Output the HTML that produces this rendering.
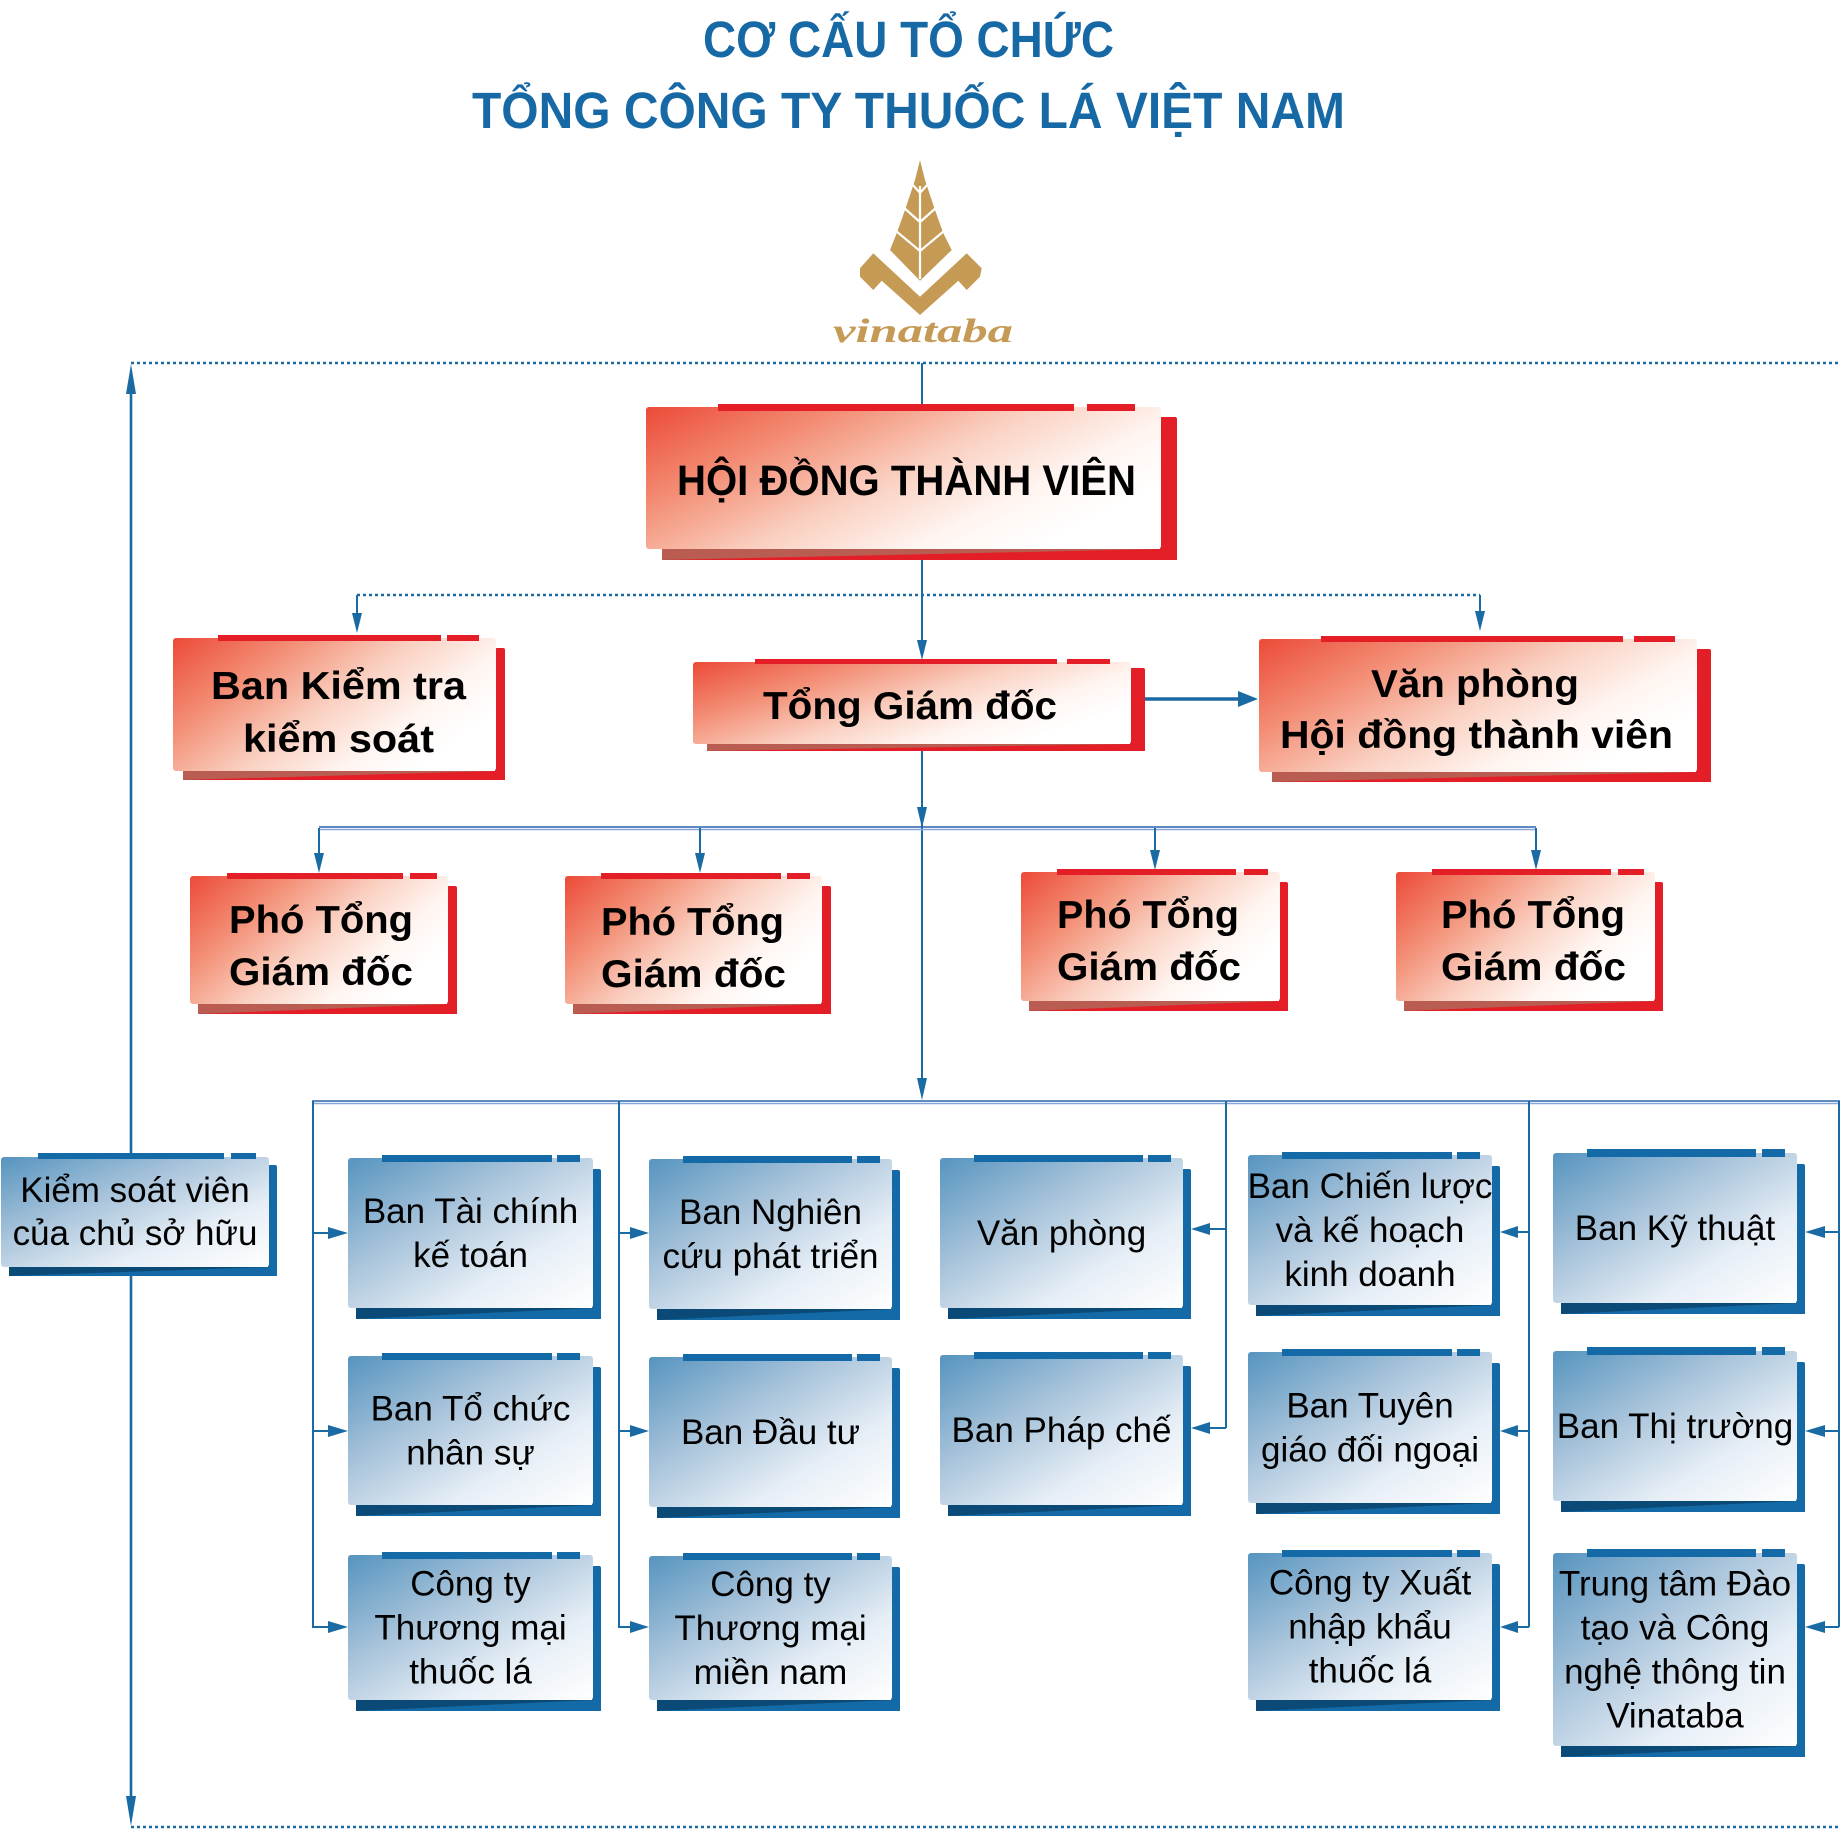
<!DOCTYPE html>
<html><head><meta charset="utf-8"><style>html,body{margin:0;padding:0;background:#fff}svg{display:block}</style></head>
<body>
<svg xmlns="http://www.w3.org/2000/svg" width="1841" height="1829" viewBox="0 0 1841 1829">
<defs>
<linearGradient id="rg" x1="0" y1="0" x2="1" y2="0.55">
<stop offset="0" stop-color="#ec4a38"/><stop offset="0.3" stop-color="#f38e75"/><stop offset="0.58" stop-color="#fad0c1"/><stop offset="0.82" stop-color="#fff5f1"/><stop offset="1" stop-color="#ffffff"/>
</linearGradient>
<linearGradient id="bg" x1="0" y1="0" x2="1" y2="1">
<stop offset="0" stop-color="#5694bf"/><stop offset="0.38" stop-color="#a9c4db"/><stop offset="0.7" stop-color="#e6eef6"/><stop offset="1" stop-color="#ffffff"/>
</linearGradient>
</defs>

<!-- Title -->
<g font-family="'Liberation Sans', 'DejaVu Sans', sans-serif" font-weight="bold" fill="#1769a5" font-size="51">
<text x="703" y="57" textLength="411" lengthAdjust="spacingAndGlyphs">CƠ CẤU TỔ CHỨC</text>
<text x="472" y="128" textLength="873" lengthAdjust="spacingAndGlyphs">TỔNG CÔNG TY THUỐC LÁ VIỆT NAM</text>
</g>

<!-- Logo -->
<g fill="#c49a55">
<polygon points="920,160 915,180 905,210 896.7,233.3 890,250 920,280.7 951.7,250 943.3,233.3 935,210 925,180"/>
<polygon points="873.3,253.3 920,296.7 966.7,253.3 981.7,268.3 980,276.7 966.7,290 958.3,280.7 920,315 881.7,280.7 873.3,290 860,276.7 860,268.3"/>
</g>
<g stroke="#fff" stroke-width="2.2" fill="none">
<line x1="920" y1="186" x2="920" y2="279"/>
<polyline points="912,184 920,193 928,184"/>
<polyline points="903,207 920,222 937,207"/>
<polyline points="896,231 920,251 944,231"/>
</g>
<text x="833" y="342" textLength="180" lengthAdjust="spacingAndGlyphs" font-family="'Liberation Serif', 'DejaVu Serif', serif" font-style="italic" font-weight="bold" font-size="34" fill="#c49a55">vinataba</text>

<!-- Connectors -->
<g stroke="#1a6aa3" fill="none">
<line x1="131" y1="363" x2="1841" y2="363" stroke-width="2.5" stroke-dasharray="3 3"/>
<line x1="131" y1="1827" x2="1841" y2="1827" stroke-width="2.5" stroke-dasharray="3 3"/>
<line x1="131" y1="385" x2="131" y2="1805" stroke-width="2.6"/>
<line x1="922" y1="363" x2="922" y2="406" stroke-width="2"/>
<line x1="922" y1="558" x2="922" y2="645" stroke-width="2"/>
<line x1="922" y1="750" x2="922" y2="1085" stroke-width="2"/>
<line x1="357" y1="595" x2="1480" y2="595" stroke-width="2.5" stroke-dasharray="3 3"/>
<line x1="357" y1="595" x2="357" y2="618" stroke-width="2"/>
<line x1="1480" y1="595" x2="1480" y2="616" stroke-width="2"/>
<line x1="1145" y1="699" x2="1245" y2="699" stroke-width="3.5"/>
<line x1="319" y1="827" x2="1536" y2="827" stroke="#2d62ad" stroke-width="1.6"/>
<line x1="319" y1="829.5" x2="1536" y2="829.5" stroke="#86a8d8" stroke-width="1.4"/>
<line x1="319" y1="828" x2="319" y2="860" stroke-width="2"/>
<line x1="700" y1="828" x2="700" y2="860" stroke-width="2"/>
<line x1="1155" y1="828" x2="1155" y2="857" stroke-width="2"/>
<line x1="1536" y1="828" x2="1536" y2="857" stroke-width="2"/>
<line x1="312" y1="1101" x2="1840" y2="1101" stroke="#2d62ad" stroke-width="1.6"/>
<line x1="312" y1="1103.5" x2="1840" y2="1103.5" stroke="#86a8d8" stroke-width="1.4"/>
<line x1="313" y1="1101" x2="313" y2="1628" stroke-width="2"/>
<line x1="619" y1="1101" x2="619" y2="1628" stroke-width="2"/>
<line x1="1226" y1="1101" x2="1226" y2="1428" stroke-width="2"/>
<line x1="1529" y1="1101" x2="1529" y2="1627" stroke-width="2"/>
<line x1="1839" y1="1101" x2="1839" y2="1627" stroke-width="2"/>
<line x1="313" y1="1233" x2="335" y2="1233" stroke-width="2"/>
<line x1="313" y1="1431" x2="335" y2="1431" stroke-width="2"/>
<line x1="313" y1="1627" x2="335" y2="1627" stroke-width="2"/>
<line x1="619" y1="1233" x2="636" y2="1233" stroke-width="2"/>
<line x1="619" y1="1431" x2="636" y2="1431" stroke-width="2"/>
<line x1="619" y1="1627" x2="636" y2="1627" stroke-width="2"/>
<line x1="1226" y1="1229" x2="1205" y2="1229" stroke-width="2"/>
<line x1="1226" y1="1428" x2="1205" y2="1428" stroke-width="2"/>
<line x1="1529" y1="1232" x2="1514" y2="1232" stroke-width="2"/>
<line x1="1529" y1="1431" x2="1514" y2="1431" stroke-width="2"/>
<line x1="1529" y1="1627" x2="1514" y2="1627" stroke-width="2"/>
<line x1="1839" y1="1232" x2="1820" y2="1232" stroke-width="2"/>
<line x1="1839" y1="1431" x2="1820" y2="1431" stroke-width="2"/>
<line x1="1839" y1="1627" x2="1820" y2="1627" stroke-width="2"/>
</g>
<g fill="#1a6aa3">
<polygon points="131,364 126,394 136,394"/>
<polygon points="131,1826 126,1796 136,1796"/>
<polygon points="922,660 917,640 927,640"/>
<polygon points="357,633 352,613 362,613"/>
<polygon points="1480,631 1475,611 1485,611"/>
<polygon points="922,828 917,807 927,807"/>
<polygon points="922,1100 917,1078 927,1078"/>
<polygon points="319,873 314,853 324,853"/>
<polygon points="700,873 695,853 705,853"/>
<polygon points="1155,870 1150,850 1160,850"/>
<polygon points="1536,870 1531,850 1541,850"/>
<polygon points="1258,699 1238,691 1238,707"/>
<polygon points="348,1233 328,1227 328,1239"/>
<polygon points="348,1431 328,1425 328,1437"/>
<polygon points="348,1627 328,1621 328,1633"/>
<polygon points="649,1233 630,1227 630,1239"/>
<polygon points="649,1431 630,1425 630,1437"/>
<polygon points="649,1627 630,1621 630,1633"/>
<polygon points="1191,1229 1210,1223 1210,1235"/>
<polygon points="1191,1428 1210,1422 1210,1434"/>
<polygon points="1500,1232 1518,1226 1518,1238"/>
<polygon points="1500,1431 1518,1425 1518,1437"/>
<polygon points="1500,1627 1518,1621 1518,1633"/>
<polygon points="1805,1232 1825,1226 1825,1238"/>
<polygon points="1805,1431 1825,1425 1825,1437"/>
<polygon points="1805,1627 1825,1621 1825,1633"/>
</g>

<!-- Red boxes -->
<g>
<!-- HĐTV -->
<rect x="662" y="549" width="515" height="11" fill="#e31e26"/>
<polygon points="662,549 1161,549 662,560" fill="#b95d52"/>
<rect x="1160" y="417" width="17" height="143" rx="2" fill="#e31e26"/>
<rect x="646" y="407" width="515" height="142" rx="3" fill="url(#rg)"/>
<rect x="718" y="404" width="356" height="7" fill="#e31e26"/>
<rect x="1087" y="404" width="48" height="7" fill="#e31e26"/>
<!-- BKT -->
<rect x="183" y="771" width="322" height="9" fill="#e31e26"/>
<polygon points="183,771 496,771 183,780" fill="#b95d52"/>
<rect x="495" y="648" width="10" height="132" rx="2" fill="#e31e26"/>
<rect x="173" y="638" width="323" height="133" rx="3" fill="url(#rg)"/>
<rect x="218" y="635" width="223" height="6" fill="#e31e26"/>
<rect x="447" y="635" width="32" height="6" fill="#e31e26"/>
<!-- TGĐ -->
<rect x="707" y="744" width="438" height="7" fill="#e31e26"/>
<polygon points="707,744 1131,744 707,751" fill="#b95d52"/>
<rect x="1130" y="668" width="15" height="83" rx="2" fill="#e31e26"/>
<rect x="693" y="662" width="438" height="82" rx="3" fill="url(#rg)"/>
<rect x="755" y="659" width="302" height="5" fill="#e31e26"/>
<rect x="1067" y="659" width="43" height="5" fill="#e31e26"/>
<!-- VP HĐTV -->
<rect x="1272" y="772" width="439" height="10" fill="#e31e26"/>
<polygon points="1272,772 1697,772 1272,782" fill="#b95d52"/>
<rect x="1696" y="649" width="15" height="133" rx="2" fill="#e31e26"/>
<rect x="1259" y="639" width="438" height="133" rx="3" fill="url(#rg)"/>
<rect x="1321" y="636" width="302" height="6" fill="#e31e26"/>
<rect x="1634" y="636" width="41" height="6" fill="#e31e26"/>
<!-- P1 -->
<rect x="198" y="1004" width="259" height="10" fill="#e31e26"/>
<polygon points="198,1004 448,1004 198,1014" fill="#b95d52"/>
<rect x="447" y="886" width="10" height="128" rx="2" fill="#e31e26"/>
<rect x="190" y="876" width="258" height="128" rx="3" fill="url(#rg)"/>
<rect x="227" y="873" width="176" height="6" fill="#e31e26"/>
<rect x="410" y="873" width="27" height="6" fill="#e31e26"/>
<!-- P2 -->
<rect x="573" y="1004" width="258" height="10" fill="#e31e26"/>
<polygon points="573,1004 822,1004 573,1014" fill="#b95d52"/>
<rect x="821" y="886" width="10" height="128" rx="2" fill="#e31e26"/>
<rect x="565" y="876" width="257" height="128" rx="3" fill="url(#rg)"/>
<rect x="601" y="873" width="180" height="6" fill="#e31e26"/>
<rect x="787" y="873" width="23" height="6" fill="#e31e26"/>
<!-- P3 -->
<rect x="1029" y="1001" width="259" height="10" fill="#e31e26"/>
<polygon points="1029,1001 1280,1001 1029,1011" fill="#b95d52"/>
<rect x="1279" y="882" width="9" height="129" rx="2" fill="#e31e26"/>
<rect x="1021" y="872" width="259" height="129" rx="3" fill="url(#rg)"/>
<rect x="1057" y="869" width="179" height="6" fill="#e31e26"/>
<rect x="1244" y="869" width="24" height="6" fill="#e31e26"/>
<!-- P4 -->
<rect x="1404" y="1001" width="259" height="10" fill="#e31e26"/>
<polygon points="1404,1001 1655,1001 1404,1011" fill="#b95d52"/>
<rect x="1654" y="882" width="9" height="129" rx="2" fill="#e31e26"/>
<rect x="1396" y="872" width="259" height="129" rx="3" fill="url(#rg)"/>
<rect x="1432" y="869" width="179" height="6" fill="#e31e26"/>
<rect x="1618" y="869" width="26" height="6" fill="#e31e26"/>
</g>

<!-- Red box text -->
<g font-family="'Liberation Sans', 'DejaVu Sans', sans-serif" font-weight="bold" fill="#000" lengthAdjust="spacingAndGlyphs">
<text x="677" y="495" font-size="43" textLength="459" lengthAdjust="spacingAndGlyphs">HỘI ĐỒNG THÀNH VIÊN</text>
<text x="211" y="699" font-size="39" textLength="255" lengthAdjust="spacingAndGlyphs">Ban Kiểm tra</text>
<text x="243" y="752" font-size="39" textLength="191" lengthAdjust="spacingAndGlyphs">kiểm soát</text>
<text x="763" y="719" font-size="39" textLength="294" lengthAdjust="spacingAndGlyphs">Tổng Giám đốc</text>
<text x="1371" y="697" font-size="39" textLength="208" lengthAdjust="spacingAndGlyphs">Văn phòng</text>
<text x="1280" y="748" font-size="39" textLength="393" lengthAdjust="spacingAndGlyphs">Hội đồng thành viên</text>
<text x="229" y="933" font-size="39" textLength="184" lengthAdjust="spacingAndGlyphs">Phó Tổng</text>
<text x="229" y="985" font-size="39" textLength="184" lengthAdjust="spacingAndGlyphs">Giám đốc</text>
<text x="601" y="935" font-size="39" textLength="183" lengthAdjust="spacingAndGlyphs">Phó Tổng</text>
<text x="601" y="987" font-size="39" textLength="185" lengthAdjust="spacingAndGlyphs">Giám đốc</text>
<text x="1057" y="928" font-size="39" textLength="182" lengthAdjust="spacingAndGlyphs">Phó Tổng</text>
<text x="1057" y="980" font-size="39" textLength="184" lengthAdjust="spacingAndGlyphs">Giám đốc</text>
<text x="1441" y="928" font-size="39" textLength="184" lengthAdjust="spacingAndGlyphs">Phó Tổng</text>
<text x="1441" y="980" font-size="39" textLength="185" lengthAdjust="spacingAndGlyphs">Giám đốc</text>
</g>

<!-- Blue boxes -->
<g>
<!-- KSV -->
<rect x="9" y="1267" width="268" height="9" fill="#146aa6"/>
<polygon points="9,1267 269,1267 9,1276" fill="#0b4a76"/>
<rect x="268" y="1165" width="9" height="111" rx="2" fill="#146aa6"/>
<rect x="1" y="1157" width="268" height="110" rx="3" fill="url(#bg)"/>
<rect x="38" y="1153" width="186" height="6" fill="#146aa6"/>
<rect x="231" y="1153" width="25" height="6" fill="#146aa6"/>
<!-- c1A -->
<rect x="356" y="1308" width="245" height="11" fill="#146aa6"/>
<polygon points="356,1308 593,1308 356,1319" fill="#0b4a76"/>
<rect x="592" y="1169" width="9" height="150" rx="2" fill="#146aa6"/>
<rect x="348" y="1158" width="245" height="150" rx="3" fill="url(#bg)"/>
<rect x="382" y="1155" width="170" height="7" fill="#146aa6"/>
<rect x="557" y="1155" width="23" height="7" fill="#146aa6"/>
<!-- c1B -->
<rect x="356" y="1505" width="245" height="11" fill="#146aa6"/>
<polygon points="356,1505 593,1505 356,1516" fill="#0b4a76"/>
<rect x="592" y="1367" width="9" height="149" rx="2" fill="#146aa6"/>
<rect x="348" y="1356" width="245" height="149" rx="3" fill="url(#bg)"/>
<rect x="382" y="1353" width="170" height="7" fill="#146aa6"/>
<rect x="557" y="1353" width="23" height="7" fill="#146aa6"/>
<!-- c1C -->
<rect x="356" y="1700" width="245" height="11" fill="#146aa6"/>
<polygon points="356,1700 593,1700 356,1711" fill="#0b4a76"/>
<rect x="592" y="1566" width="9" height="145" rx="2" fill="#146aa6"/>
<rect x="348" y="1555" width="245" height="145" rx="3" fill="url(#bg)"/>
<rect x="382" y="1552" width="170" height="7" fill="#146aa6"/>
<rect x="557" y="1552" width="23" height="7" fill="#146aa6"/>
<!-- c2A -->
<rect x="657" y="1309" width="243" height="11" fill="#146aa6"/>
<polygon points="657,1309 892,1309 657,1320" fill="#0b4a76"/>
<rect x="891" y="1170" width="9" height="150" rx="2" fill="#146aa6"/>
<rect x="649" y="1159" width="243" height="150" rx="3" fill="url(#bg)"/>
<rect x="683" y="1156" width="169" height="7" fill="#146aa6"/>
<rect x="857" y="1156" width="23" height="7" fill="#146aa6"/>
<!-- c2B -->
<rect x="657" y="1507" width="243" height="11" fill="#146aa6"/>
<polygon points="657,1507 892,1507 657,1518" fill="#0b4a76"/>
<rect x="891" y="1368" width="9" height="150" rx="2" fill="#146aa6"/>
<rect x="649" y="1357" width="243" height="150" rx="3" fill="url(#bg)"/>
<rect x="683" y="1354" width="169" height="7" fill="#146aa6"/>
<rect x="857" y="1354" width="23" height="7" fill="#146aa6"/>
<!-- c2C -->
<rect x="657" y="1700" width="243" height="11" fill="#146aa6"/>
<polygon points="657,1700 892,1700 657,1711" fill="#0b4a76"/>
<rect x="891" y="1567" width="9" height="144" rx="2" fill="#146aa6"/>
<rect x="649" y="1556" width="243" height="144" rx="3" fill="url(#bg)"/>
<rect x="683" y="1553" width="169" height="7" fill="#146aa6"/>
<rect x="857" y="1553" width="23" height="7" fill="#146aa6"/>
<!-- c3A -->
<rect x="948" y="1308" width="243" height="11" fill="#146aa6"/>
<polygon points="948,1308 1183,1308 948,1319" fill="#0b4a76"/>
<rect x="1182" y="1169" width="9" height="150" rx="2" fill="#146aa6"/>
<rect x="940" y="1158" width="243" height="150" rx="3" fill="url(#bg)"/>
<rect x="974" y="1155" width="169" height="7" fill="#146aa6"/>
<rect x="1148" y="1155" width="23" height="7" fill="#146aa6"/>
<!-- c3B -->
<rect x="948" y="1505" width="243" height="11" fill="#146aa6"/>
<polygon points="948,1505 1183,1505 948,1516" fill="#0b4a76"/>
<rect x="1182" y="1366" width="9" height="150" rx="2" fill="#146aa6"/>
<rect x="940" y="1355" width="243" height="150" rx="3" fill="url(#bg)"/>
<rect x="974" y="1352" width="169" height="7" fill="#146aa6"/>
<rect x="1148" y="1352" width="23" height="7" fill="#146aa6"/>
<!-- c4A -->
<rect x="1256" y="1305" width="244" height="11" fill="#146aa6"/>
<polygon points="1256,1305 1492,1305 1256,1316" fill="#0b4a76"/>
<rect x="1491" y="1166" width="9" height="150" rx="2" fill="#146aa6"/>
<rect x="1248" y="1155" width="244" height="150" rx="3" fill="url(#bg)"/>
<rect x="1282" y="1152" width="170" height="7" fill="#146aa6"/>
<rect x="1457" y="1152" width="23" height="7" fill="#146aa6"/>
<!-- c4B -->
<rect x="1256" y="1503" width="244" height="11" fill="#146aa6"/>
<polygon points="1256,1503 1492,1503 1256,1514" fill="#0b4a76"/>
<rect x="1491" y="1363" width="9" height="151" rx="2" fill="#146aa6"/>
<rect x="1248" y="1352" width="244" height="151" rx="3" fill="url(#bg)"/>
<rect x="1282" y="1349" width="170" height="7" fill="#146aa6"/>
<rect x="1457" y="1349" width="23" height="7" fill="#146aa6"/>
<!-- c4C -->
<rect x="1256" y="1700" width="244" height="11" fill="#146aa6"/>
<polygon points="1256,1700 1492,1700 1256,1711" fill="#0b4a76"/>
<rect x="1491" y="1564" width="9" height="147" rx="2" fill="#146aa6"/>
<rect x="1248" y="1553" width="244" height="147" rx="3" fill="url(#bg)"/>
<rect x="1282" y="1550" width="170" height="7" fill="#146aa6"/>
<rect x="1457" y="1550" width="23" height="7" fill="#146aa6"/>
<!-- c5A -->
<rect x="1561" y="1303" width="244" height="11" fill="#146aa6"/>
<polygon points="1561,1303 1797,1303 1561,1314" fill="#0b4a76"/>
<rect x="1796" y="1164" width="9" height="150" rx="2" fill="#146aa6"/>
<rect x="1553" y="1153" width="244" height="150" rx="3" fill="url(#bg)"/>
<rect x="1587" y="1149" width="169" height="8" fill="#146aa6"/>
<rect x="1762" y="1149" width="23" height="8" fill="#146aa6"/>
<!-- c5B -->
<rect x="1561" y="1501" width="244" height="11" fill="#146aa6"/>
<polygon points="1561,1501 1797,1501 1561,1512" fill="#0b4a76"/>
<rect x="1796" y="1362" width="9" height="150" rx="2" fill="#146aa6"/>
<rect x="1553" y="1351" width="244" height="150" rx="3" fill="url(#bg)"/>
<rect x="1587" y="1347" width="169" height="8" fill="#146aa6"/>
<rect x="1762" y="1347" width="23" height="8" fill="#146aa6"/>
<!-- c5C -->
<rect x="1561" y="1746" width="244" height="11" fill="#146aa6"/>
<polygon points="1561,1746 1797,1746 1561,1757" fill="#0b4a76"/>
<rect x="1796" y="1564" width="9" height="193" rx="2" fill="#146aa6"/>
<rect x="1553" y="1553" width="244" height="193" rx="3" fill="url(#bg)"/>
<rect x="1587" y="1549" width="169" height="8" fill="#146aa6"/>
<rect x="1762" y="1549" width="23" height="8" fill="#146aa6"/>
</g>

<!-- Blue box text -->
<g font-family="'Liberation Sans', 'DejaVu Sans', sans-serif" font-size="35" fill="#000" text-anchor="middle">
<text x="135" y="1202">Kiểm soát viên</text>
<text x="135" y="1245">của chủ sở hữu</text>

<text x="470.5" y="1223">Ban Tài chính</text>
<text x="470.5" y="1267">kế toán</text>
<text x="470.5" y="1420.5">Ban Tổ chức</text>
<text x="470.5" y="1464.5">nhân sự</text>
<text x="470.5" y="1595.5">Công ty</text>
<text x="470.5" y="1639.5">Thương mại</text>
<text x="470.5" y="1683.5">thuốc lá</text>

<text x="770.5" y="1224">Ban Nghiên</text>
<text x="770.5" y="1268">cứu phát triển</text>
<text x="770.5" y="1444">Ban Đầu tư</text>
<text x="770.5" y="1596">Công ty</text>
<text x="770.5" y="1640">Thương mại</text>
<text x="770.5" y="1684">miền nam</text>

<text x="1061.5" y="1245">Văn phòng</text>
<text x="1061.5" y="1442">Ban Pháp chế</text>

<text x="1370" y="1198">Ban Chiến lược</text>
<text x="1370" y="1242">và kế hoạch</text>
<text x="1370" y="1286">kinh doanh</text>
<text x="1370" y="1417.5">Ban Tuyên</text>
<text x="1370" y="1461.5">giáo đối ngoại</text>
<text x="1370" y="1594.5">Công ty Xuất</text>
<text x="1370" y="1638.5">nhập khẩu</text>
<text x="1370" y="1682.5">thuốc lá</text>

<text x="1675" y="1240">Ban Kỹ thuật</text>
<text x="1675" y="1438">Ban Thị trường</text>
<text x="1675" y="1595.5">Trung tâm Đào</text>
<text x="1675" y="1639.5">tạo và Công</text>
<text x="1675" y="1683.5">nghệ thông tin</text>
<text x="1675" y="1727.5">Vinataba</text>
</g>
</svg>
</body></html>
